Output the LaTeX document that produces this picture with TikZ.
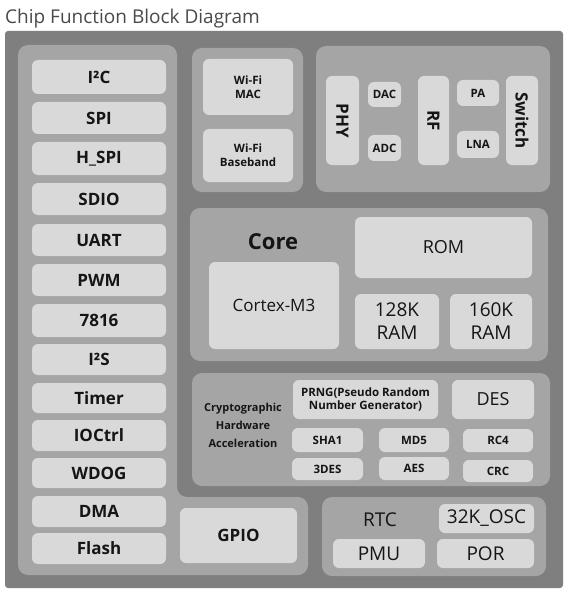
\documentclass[tikz,border=0pt]{standalone}
\usepackage{fontspec}
\setmainfont{Open Sans}
\definecolor{outerc}{HTML}{7F7F7F}
\definecolor{panelc}{HTML}{A5A5A5}
\definecolor{boxc}{HTML}{D9D9D9}
\definecolor{txtc}{HTML}{151515}
\definecolor{titlec}{HTML}{4A4A4A}
\newcommand{\blk}[7]{\node[#6, minimum width={(#4-#2)*1pt}, minimum height={(#5-#3)*1pt}] (#1) at ({(#2+#4)/2},{-(#3+#5)/2}) {#7};}
\tikzset{
  box/.style={fill=boxc, rounded corners=6pt, inner sep=0pt, text=txtc, align=center, font=\bfseries\fontsize{17}{19}\selectfont},
  panel/.style={fill=panelc, rounded corners=10pt, inner sep=0pt},
  small/.style={font=\bfseries\fontsize{11.5}{14}\selectfont},
  reg/.style={font=\fontsize{19}{23}\selectfont},
  rot/.style={rotate=-90},
}
\begin{document}
\begin{tikzpicture}[x=1pt,y=1pt]
\useasboundingbox (0,0) rectangle (571,-596);
\fill[white] (0,0) rectangle (571,-596);
\node[anchor=base west, text=titlec, font=\fontsize{19}{23}\selectfont, inner sep=0pt] (title) at (5,-24) {Chip Function Block Diagram};
% outer chip
\blk{chip}{5}{31}{563}{588}{fill=outerc, rounded corners=3pt, inner sep=0pt}{}
% left L-shaped panel
\fill[panelc, rounded corners=10pt] (18,-45) -- (177,-45) -- (177,-497) -- (308,-497) -- (308,-575) -- (18,-575) -- cycle;
\coordinate (lpanel) at (97,-310);
% left column
\blk{i2c}{32}{60}{166}{94}{box}{I²C}
\blk{spi}{32}{102}{166}{134}{box}{SPI}
\blk{hspi}{32}{142}{166}{175}{box}{H\_SPI}
\blk{sdio}{32}{183}{166}{215}{box}{SDIO}
\blk{uart}{32}{224}{166}{256}{box}{UART}
\blk{pwm}{32}{264}{166}{296}{box}{PWM}
\blk{b7816}{32}{304}{166}{337}{box}{7816}
\blk{i2s}{32}{344}{166}{375}{box}{I²S}
\blk{timer}{32}{383}{166}{413}{box}{Timer}
\blk{ioctrl}{32}{420}{166}{451}{box}{IOCtrl}
\blk{wdog}{32}{458}{166}{488}{box}{WDOG}
\blk{dma}{32}{496}{166}{527}{box}{DMA}
\blk{flash}{32}{533}{166}{564}{box}{Flash}
\blk{gpio}{180}{508}{297}{563}{box}{GPIO}
% Wi-Fi panel
\blk{wifip}{192}{48}{303}{192}{panel}{}
\blk{wmac}{203}{59}{293}{115}{box, small}{Wi-Fi\\MAC}
\blk{wbb}{203}{129}{293}{182}{box, small}{Wi-Fi\\Baseband}
% RF panel
\blk{rfp}{316}{46}{550}{192}{panel}{}
\blk{phy}{326}{76}{359}{165}{box}{}
\node[rot, text=txtc, font=\bfseries\fontsize{17}{19}\selectfont] at (phy) {PHY};
\blk{dac}{368}{82}{401}{107}{box, small}{DAC}
\blk{adc}{368}{135}{401}{161}{box, small}{ADC}
\blk{rf}{418}{76}{449}{165}{box}{}
\node[rot, text=txtc, font=\bfseries\fontsize{17}{19}\selectfont] at (rf) {RF};
\blk{pa}{457}{80}{499}{106}{box, small}{PA}
\blk{lna}{457}{131}{499}{158}{box, small}{LNA}
\blk{switch}{506}{76}{538}{165}{box}{}
\node[rot, text=txtc, font=\bfseries\fontsize{17}{19}\selectfont] at (switch) {Switch};
% Core panel
\blk{corep}{190}{208}{548}{361}{panel}{}
\node[text=txtc, font=\bfseries\fontsize{22}{26}\selectfont] (corelbl) at (273,-242) {Core};
\blk{cortex}{209}{262}{339}{349}{box, font=\fontsize{17}{20}\selectfont}{Cortex-M3}
\blk{rom}{355}{217}{532}{278}{box, font=\fontsize{18}{21}\selectfont}{ROM}
\blk{ram1}{355}{294}{439}{349}{box, font=\fontsize{19}{23}\selectfont}{128K\\RAM}
\blk{ram2}{450}{294}{532}{349}{box, font=\fontsize{19}{23}\selectfont}{160K\\RAM}
% Crypto panel
\blk{cryp}{192}{373}{550}{486}{panel}{}
\node[text=txtc, align=center, font=\bfseries\fontsize{11}{18}\selectfont] (cryplbl) at (243,-425) {Cryptographic\\Hardware\\Acceleration};
\blk{prng}{293}{380}{438}{419}{box, small, font=\bfseries\fontsize{11.5}{13}\selectfont}{PRNG(Pseudo Random\\Number Generator)}
\blk{des}{452}{380}{534}{419}{box, font=\fontsize{18}{21}\selectfont}{DES}
\blk{sha}{292}{428}{363}{452}{box, small}{SHA1}
\blk{md5}{379}{428}{449}{452}{box, small}{MD5}
\blk{rc4}{463}{429}{533}{452}{box, small}{RC4}
\blk{des3}{292}{458}{363}{480}{box, small}{3DES}
\blk{aes}{379}{457}{449}{480}{box, small}{AES}
\blk{crc}{463}{460}{533}{482}{box, small}{CRC}
% RTC panel
\blk{rtcp}{322}{497}{546}{576}{panel}{}
\node[text=txtc, font=\fontsize{19}{23}\selectfont] (rtclbl) at (380,-520) {RTC};
\blk{osc}{439}{504}{534}{533}{box, reg}{32K\_OSC}
\blk{pmu}{333}{539}{425}{568}{box, reg}{PMU}
\blk{por}{437}{539}{534}{568}{box, reg}{POR}
\end{tikzpicture}
\end{document}
